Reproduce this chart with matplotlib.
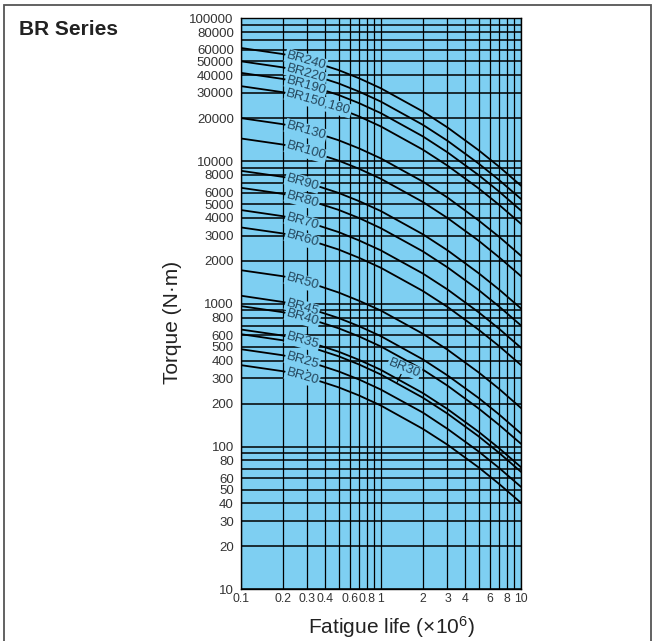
import numpy as np
import matplotlib.pyplot as plt
from matplotlib.patches import Rectangle

plt.rcParams['font.family'] = ['Liberation Sans', 'DejaVu Sans']
plt.rcParams['mathtext.default'] = 'regular'

life = [0.1, 0.2, 0.3, 0.5, 0.7, 1, 2, 3, 5, 7, 10]

# torque (N·m) per model
br240 = [62000, 56170, 51030, 43370, 38020, 32380, 22250, 17190, 11920, 9140, 6750]
br220 = [50000, 45300, 41150, 34980, 30670, 26120, 17940, 13870, 9610, 7370, 5450]
br190 = [41500, 37600, 34150, 29030, 25450, 21680, 14890, 11510, 7980, 6120, 4520]
br150_180 = [33500, 30350, 27570, 23430, 20550, 17500, 12020, 9290, 6440, 4940, 3650]
br130 = [20000, 18120, 16460, 13990, 12270, 10450, 7180, 5550, 3840, 2950, 2180]
br100 = [14400, 13050, 11850, 10070, 8830, 7520, 5170, 3990, 2770, 2120, 1570]
br90 = [8550, 7750, 7040, 5980, 5240, 4470, 3070, 2370, 1640, 1260, 931]
br80 = [6500, 5890, 5350, 4550, 3990, 3390, 2330, 1800, 1250, 958, 708]
br70 = [4540, 4110, 3740, 3180, 2780, 2370, 1630, 1260, 873, 669, 494]
br60 = [3430, 3110, 2820, 2400, 2100, 1790, 1230, 951, 659, 506, 374]
br50 = [1720, 1560, 1420, 1200, 1050, 898, 617, 477, 331, 254, 187]
br45 = [1140, 1030, 936, 795, 697, 594, 408, 315, 219, 168, 124]
br40 = [964, 873, 793, 674, 591, 503, 346, 267, 185, 142, 105]
br35 = [661, 599, 544, 462, 405, 345, 237, 183, 127, 97.4, 72]
br30 = [613, 555, 505, 429, 376, 320, 220, 170, 118, 90.4, 66.8]
br25 = [481, 436, 396, 336, 295, 251, 173, 133, 92.4, 70.9, 52.4]
br20 = [372, 337, 306, 260, 228, 194, 133, 103, 71.5, 54.8, 40.5]

names = ['BR240', 'BR220', 'BR190', 'BR150,180', 'BR130', 'BR100', 'BR90', 'BR80',
         'BR70', 'BR60', 'BR50', 'BR45', 'BR40', 'BR35', 'BR30', 'BR25', 'BR20']
series = [br240, br220, br190, br150_180, br130, br100, br90, br80,
          br70, br60, br50, br45, br40, br35, br30, br25, br20]

x_grid = [0.1, 0.2, 0.3, 0.4, 0.5, 0.6, 0.7, 0.8, 0.9, 1, 2, 3, 4, 5, 6, 7, 8, 9, 10]
x_labels = ['0.1', '0.2', '0.3', '0.4', '', '0.6', '', '0.8', '', '1',
            '2', '3', '4', '', '6', '', '8', '', '10']
y_grid = [m * 10 ** e for e in range(1, 5) for m in range(1, 10)] + [100000]
y_labeled = {10, 20, 30, 40, 50, 60, 80}
y_labels = [f'{v}' if (v / 10 ** int(np.floor(np.log10(v)))) * 10 in y_labeled or v == 100000 else ''
            for v in y_grid]

bg = '#7ecff2'
txt = '#333333'
lab = '#24465c'

fig = plt.figure(figsize=(6.55, 6.41), dpi=100)
ax = fig.add_axes([240.7 / 655, 1 - 589.3 / 641, 280 / 655, 571 / 641])
ax.set_facecolor(bg)
ax.set_xscale('log')
ax.set_yscale('log')
ax.set_xlim(0.1, 10)
ax.set_ylim(10, 100000)

ax.set_xticks(x_grid)
ax.set_xticklabels(x_labels)
ax.set_yticks(y_grid)
ax.set_yticklabels(y_labels)
ax.minorticks_off()
ax.tick_params(axis='both', length=0, labelcolor=txt)
ax.tick_params(axis='y', pad=5, labelsize=9.5)
ax.tick_params(axis='x', pad=3, labelsize=8.8)
ax.set_axisbelow(True)
ax.grid(axis='x', color='black', lw=0.9)
ax.grid(axis='y', color='black', lw=1.1)
for s in ax.spines.values():
    s.set_color('black')
    s.set_linewidth(1.0)

lx = np.log10(life)
for name, vals in zip(names, series):
    ax.plot(life, vals, color='black', lw=1.3, zorder=3)
    if name == 'BR30':
        xp = 1.3
        yp = 10 ** np.interp(np.log10(xp), lx, np.log10(vals))
        ax.annotate(name, xy=(xp, yp), xytext=(5.5, 11), textcoords='offset points',
                    ha='center', va='center', rotation=-22, fontsize=9.5, color=lab,
                    bbox=dict(boxstyle='square,pad=0.05', fc=bg, ec='none'),
                    arrowprops=dict(arrowstyle='-', color='black', lw=0.8,
                                    shrinkA=0, shrinkB=0), zorder=5)
        continue
    xs = 0.212
    ys = 10 ** np.interp(np.log10(xs), lx, np.log10(vals))
    ax.text(xs, ys, name, ha='left', va='center', rotation=-16, rotation_mode='anchor',
            fontsize=9.5, color=lab, zorder=5,
            bbox=dict(boxstyle='square,pad=0.08', fc=bg, ec='none'))

fig.text(19 / 655, 1 - 35 / 641, 'BR Series', fontsize=15, fontweight='bold',
         color='#222222', ha='left', va='baseline')
fig.text(172.5 / 655, 1 - 322 / 641, 'Torque (N·m)', fontsize=15, rotation=90,
         ha='center', va='center', color='#222222')
fig.text(391 / 655, 1 - 627 / 641, 'Fatigue life (×10$^{6}$)', fontsize=15,
         ha='center', va='center', color='#222222')

fig.add_artist(Rectangle((3.5 / 655, -0.05), (651 - 3.5) / 655, 1.05 - 4.5 / 641,
                         transform=fig.transFigure, fill=False, ec='#555555', lw=1.3))

fig.savefig('out.png', dpi=100)
